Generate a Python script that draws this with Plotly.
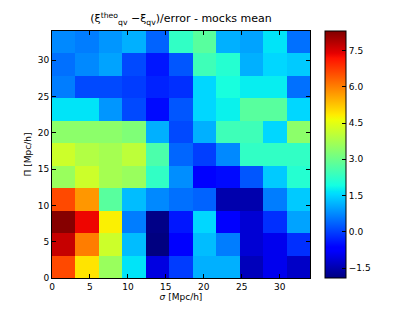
import numpy as np
import plotly.graph_objects as go

# Cell values, rows from Pi bin 0 (bottom) to Pi bin 10 (top), columns sigma bins 0..10
row0 = [6.59, 4.92, 3.57, 1.66, -1.04, -0.02, 1.14, 1.14, -1.38, -0.93, -1.27]
row1 = [7.67, 6.03, 4.21, 1.27, -1.95, -0.77, 1.27, 0.63, -1.16, -0.93, -0.15]
row2 = [8.25, 7.32, 4.79, 0.63, -1.84, -0.40, 1.53, -0.77, -1.16, -0.15, 1.01]
row3 = [6.59, 5.75, 2.77, 1.27, 0.75, 0.50, 0.37, -1.50, -1.50, 0.63, 1.40]
row4 = [3.57, 4.21, 3.72, 3.57, 2.29, 0.80, -0.77, -0.53, 0.24, 1.40, 2.14]
row5 = [4.21, 3.89, 3.72, 4.02, 2.61, 0.40, 0.00, 0.75, 2.29, 2.29, 2.29]
row6 = [3.41, 3.41, 3.41, 3.25, 1.14, 0.11, 1.14, 2.45, 2.45, 1.53, 3.41]
row7 = [1.66, 1.66, 0.88, 0.11, -0.53, 0.24, 1.53, 1.80, 2.77, 2.77, 1.53]
row8 = [0.63, 0.11, 0.11, -0.02, -0.28, -0.15, 1.53, 1.97, 1.76, 1.76, 0.50]
row9 = [0.50, 0.75, 1.01, 0.11, -0.40, 0.24, 2.45, 2.14, 1.14, 1.53, 1.40]
row10 = [0.75, 0.63, 0.88, 1.14, 0.37, 2.29, 2.77, 1.14, 1.01, 1.66, 0.50]

z = [row0, row1, row2, row3, row4, row5, row6, row7, row8, row9, row10]

axis_max = 34.0
n_bins = 11
edges = list(np.linspace(0, axis_max, n_bins + 1))

axis_ticks = [0, 5, 10, 15, 20, 25, 30]
cbar_ticks = [-1.5, 0.0, 1.5, 3.0, 4.5, 6.0, 7.5]
zmin, zmax = -1.9, 8.3

jet = [
    [0.0, "rgb(0,0,128)"], [0.11, "rgb(0,0,255)"], [0.125, "rgb(0,0,255)"],
    [0.34, "rgb(0,219,255)"], [0.35, "rgb(0,229,247)"], [0.375, "rgb(20,255,226)"],
    [0.64, "rgb(238,255,8)"], [0.66, "rgb(255,236,0)"], [0.89, "rgb(255,18,0)"],
    [0.91, "rgb(230,0,0)"], [1.0, "rgb(128,0,0)"],
]

font = "DejaVu Sans"

fig = go.Figure(go.Heatmap(
    z=z, x=edges, y=edges, colorscale=jet, zmin=zmin, zmax=zmax,
    colorbar=dict(
        thickness=21, len=1.0, lenmode="fraction", y=0.5, yanchor="middle",
        x=1.058, xanchor="left", xpad=0, ypad=0,
        outlinecolor="black", outlinewidth=1,
        tickvals=cbar_ticks, ticktext=[("−" if v < 0 else "") + f"{abs(v):.1f}" for v in cbar_ticks],
        ticks="inside", ticklen=4, tickcolor="black",
        tickfont=dict(family=font, size=9, color="black"),
    ),
))

axcommon = dict(
    range=[0, axis_max], tickvals=axis_ticks, ticks="inside", ticklen=4,
    tickcolor="black", showline=True, linecolor="black", linewidth=1,
    mirror="ticks", showgrid=False, zeroline=False,
    tickfont=dict(family=font, size=9, color="black"),
)

fig.update_layout(
    width=407, height=304,
    margin=dict(l=44, r=105, t=23, b=34),
    paper_bgcolor="white", plot_bgcolor="white",
    title=dict(
        text="(ξ<sup>theo</sup><sub>qv</sub> −ξ<sub>qv</sub>)/error - mocks mean",
        xref="paper", x=0.5, xanchor="center", yref="container", y=0.965, yanchor="middle",
        font=dict(family=font, size=11, color="black"),
    ),
    xaxis=dict(title=dict(text="<i>σ</i> [Mpc/h]", font=dict(family=font, size=9, color="black"), standoff=2), **axcommon),
    yaxis=dict(title=dict(text="Π [Mpc/h]", font=dict(family=font, size=9, color="black"), standoff=4), **axcommon),
)

fig.write_html("out.html")
